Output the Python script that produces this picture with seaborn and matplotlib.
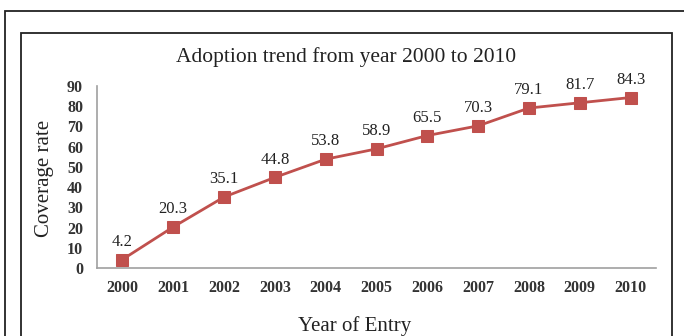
import matplotlib
matplotlib.use("Agg")
import matplotlib.pyplot as plt
import seaborn as sns
import pandas as pd
from matplotlib.patches import Rectangle

years = ["2000", "2001", "2002", "2003", "2004", "2005", "2006", "2007", "2008", "2009", "2010"]
coverage = [4.2, 20.3, 35.1, 44.8, 53.8, 58.9, 65.5, 70.3, 79.1, 81.7, 84.3]
yticks = [0, 10, 20, 30, 40, 50, 60, 70, 80, 90]

sns.set_theme(style="white")
plt.rcParams['font.family'] = ['Liberation Serif', 'DejaVu Serif']

df = pd.DataFrame({"year": years, "coverage": coverage})

W, H = 684, 336
fig = plt.figure(figsize=(W / 100, H / 100), dpi=100)
fig.patch.set_facecolor("white")

# outer and inner frames
fig.patches.append(Rectangle((5 / W, -0.1), 1.2, 1 - 11 / H + 0.1, transform=fig.transFigure,
                             fill=False, edgecolor="#222222", linewidth=1.3))
fig.patches.append(Rectangle((21 / W, -0.1), (672 - 21) / W, 1 - 33 / H + 0.1, transform=fig.transFigure,
                             fill=False, edgecolor="#222222", linewidth=1.3))

left, right = 97 / W, 656 / W
bottom, top = 1 - 268 / H, 1 - 86 / H
ax = fig.add_axes([left, bottom, right - left, top - bottom])
ax.set_facecolor("none")

color = "#C0504D"
sns.lineplot(data=df, x="year", y="coverage", ax=ax, color=color, linewidth=2,
             marker="s", markersize=9, markeredgecolor=color, sort=False)

for i, v in enumerate(coverage):
    ax.annotate(f"{v}", (i, v), xytext=(0, 7), textcoords="offset points",
                ha="center", va="bottom", fontsize=12, color="#222222")

ax.set_xlim(-0.5, len(years) - 0.5)
ax.set_ylim(0, 90)
ax.set_yticks(yticks)
ax.set_yticklabels([str(t) for t in yticks], fontsize=11.5, fontweight="bold", color="#333333")
ax.set_xticks(range(len(years)))
ax.set_xticklabels(years, fontsize=11.5, fontweight="bold", color="#333333")
ax.tick_params(axis="y", length=0, pad=10)
ax.tick_params(axis="x", length=0, pad=9)

for s in ["top", "right"]:
    ax.spines[s].set_visible(False)
for s in ["left", "bottom"]:
    ax.spines[s].set_color("#a0a0a0")
    ax.spines[s].set_linewidth(1.2)

ax.set_xlabel("")
ax.set_ylabel("")
fig.text(346 / W, 1 - 57 / H, "Adoption trend from year 2000 to 2010", ha="center", va="center",
         fontsize=15.5, color="#222222")
fig.text(45 / W, 1 - 178 / H, "Coverage rate", ha="center", va="center", rotation=90,
         fontsize=15, color="#222222")
fig.text(355 / W, 1 - 326 / H, "Year of Entry", ha="center", va="center",
         fontsize=15, color="#222222")

fig.savefig("out.png", dpi=100)
